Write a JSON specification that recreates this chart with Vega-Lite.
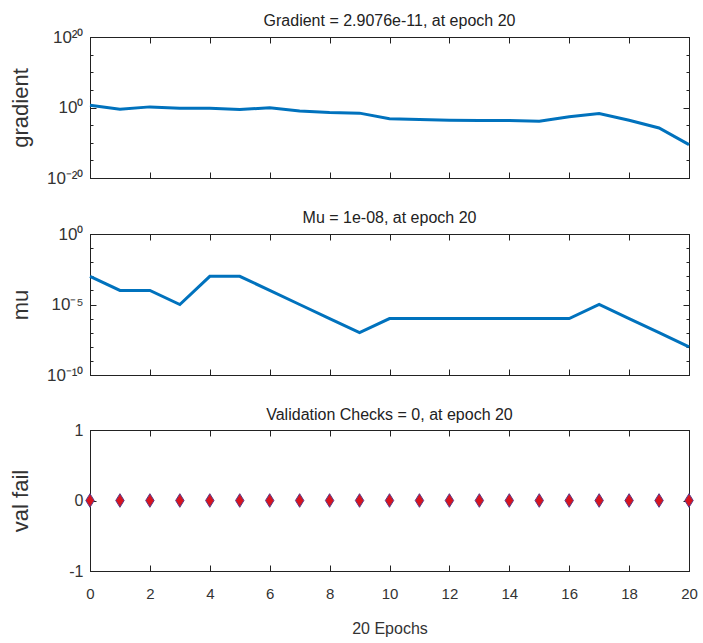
{
  "$schema": "https://vega.github.io/schema/vega-lite/v6.json",
  "background": "white",
  "padding": {"left": 8, "top": 12, "right": 5, "bottom": 5},
  "spacing": 22,
  "datasets": {
    "grad": [
      {"epoch": 0, "gradient": 4.6},
      {"epoch": 1, "gradient": 0.34},
      {"epoch": 2, "gradient": 1.5},
      {"epoch": 3, "gradient": 0.65},
      {"epoch": 4, "gradient": 0.65},
      {"epoch": 5, "gradient": 0.27},
      {"epoch": 6, "gradient": 0.8},
      {"epoch": 7, "gradient": 0.11},
      {"epoch": 8, "gradient": 0.04},
      {"epoch": 9, "gradient": 0.025},
      {"epoch": 10, "gradient": 0.00063},
      {"epoch": 11, "gradient": 0.0004},
      {"epoch": 12, "gradient": 0.00025},
      {"epoch": 13, "gradient": 0.0002},
      {"epoch": 14, "gradient": 0.0002},
      {"epoch": 15, "gradient": 0.00013},
      {"epoch": 16, "gradient": 0.0025},
      {"epoch": 17, "gradient": 0.02},
      {"epoch": 18, "gradient": 0.00025},
      {"epoch": 19, "gradient": 0.0000016},
      {"epoch": 20, "gradient": 2.9076e-11}
    ],
    "mu": [
      {"epoch": 0, "mu": 0.001},
      {"epoch": 1, "mu": 0.0001},
      {"epoch": 2, "mu": 0.0001},
      {"epoch": 3, "mu": 0.00001},
      {"epoch": 4, "mu": 0.001},
      {"epoch": 5, "mu": 0.001},
      {"epoch": 6, "mu": 0.0001},
      {"epoch": 7, "mu": 0.00001},
      {"epoch": 8, "mu": 0.000001},
      {"epoch": 9, "mu": 0.0000001},
      {"epoch": 10, "mu": 0.000001},
      {"epoch": 11, "mu": 0.000001},
      {"epoch": 12, "mu": 0.000001},
      {"epoch": 13, "mu": 0.000001},
      {"epoch": 14, "mu": 0.000001},
      {"epoch": 15, "mu": 0.000001},
      {"epoch": 16, "mu": 0.000001},
      {"epoch": 17, "mu": 0.00001},
      {"epoch": 18, "mu": 0.000001},
      {"epoch": 19, "mu": 0.0000001},
      {"epoch": 20, "mu": 0.00000001}
    ],
    "val": [
      {"epoch": 0, "val": 0}, {"epoch": 1, "val": 0}, {"epoch": 2, "val": 0},
      {"epoch": 3, "val": 0}, {"epoch": 4, "val": 0}, {"epoch": 5, "val": 0},
      {"epoch": 6, "val": 0}, {"epoch": 7, "val": 0}, {"epoch": 8, "val": 0},
      {"epoch": 9, "val": 0}, {"epoch": 10, "val": 0}, {"epoch": 11, "val": 0},
      {"epoch": 12, "val": 0}, {"epoch": 13, "val": 0}, {"epoch": 14, "val": 0},
      {"epoch": 15, "val": 0}, {"epoch": 16, "val": 0}, {"epoch": 17, "val": 0},
      {"epoch": 18, "val": 0}, {"epoch": 19, "val": 0}, {"epoch": 20, "val": 0}
    ]
  },
  "vconcat": [
    {
      "title": {"text": "Gradient = 2.9076e-11, at epoch 20"},
      "width": 599,
      "height": 141,
      "data": {"name": "grad"},
      "layer": [
        {
          "mark": {"type": "line", "color": "#0072BD", "strokeWidth": 3},
          "encoding": {
            "x": {"field": "epoch", "type": "quantitative", "scale": {"domain": [0, 20], "nice": false, "zero": false},
                  "axis": {"orient": "bottom", "values": [0, 2, 4, 6, 8, 10, 12, 14, 16, 18, 20], "labels": false, "title": null, "tickSize": -6}},
            "y": {"field": "gradient", "type": "quantitative", "scale": {"type": "log", "domain": [1e-20, 1e20], "nice": false},
                  "axis": {"orient": "left", "title": "gradient", "minExtent": 50, "maxExtent": 50,
                           "values": [1e-20, 1e-15, 1e-10, 1e-5, 1, 1e5, 1e10, 1e15, 1e20],
                           "labelExpr": "datum.value == 1e20 ? '10²⁰' : datum.value == 1 ? '10⁰' : datum.value == 1e-20 ? '10⁻²⁰' : ''",
                           "tickSize": {"condition": {"test": "datum.value == 1e20 || datum.value == 1 || datum.value == 1e-20", "value": -6}, "value": -3}}}
          }
        },
        {
          "mark": {"type": "line", "opacity": 0},
          "encoding": {
            "x": {"field": "epoch", "type": "quantitative", "axis": {"orient": "top", "values": [0, 2, 4, 6, 8, 10, 12, 14, 16, 18, 20], "labels": false, "title": null, "tickSize": -6}},
            "y": {"field": "gradient", "type": "quantitative",
                  "axis": {"orient": "right", "title": null, "labels": false,
                           "values": [1e-20, 1e-15, 1e-10, 1e-5, 1, 1e5, 1e10, 1e15, 1e20],
                           "tickSize": {"condition": {"test": "datum.value == 1e20 || datum.value == 1 || datum.value == 1e-20", "value": -6}, "value": -3}}}
          }
        }
      ],
      "resolve": {"axis": {"x": "independent", "y": "independent"}}
    },
    {
      "title": {"text": "Mu = 1e-08, at epoch 20"},
      "width": 599,
      "height": 141,
      "data": {"name": "mu"},
      "layer": [
        {
          "mark": {"type": "line", "color": "#0072BD", "strokeWidth": 3},
          "encoding": {
            "x": {"field": "epoch", "type": "quantitative", "scale": {"domain": [0, 20], "nice": false, "zero": false},
                  "axis": {"orient": "bottom", "values": [0, 2, 4, 6, 8, 10, 12, 14, 16, 18, 20], "labels": false, "title": null, "tickSize": -6}},
            "y": {"field": "mu", "type": "quantitative", "scale": {"type": "log", "domain": [1e-10, 1], "nice": false},
                  "axis": {"orient": "left", "title": "mu", "minExtent": 50, "maxExtent": 50,
                           "values": [1e-10, 1e-9, 1e-8, 1e-7, 1e-6, 1e-5, 1e-4, 1e-3, 1e-2, 1e-1, 1],
                           "labelExpr": "datum.value == 1 ? '10⁰' : datum.value == 1e-5 ? '10⁻⁵' : datum.value == 1e-10 ? '10⁻¹⁰' : ''",
                           "tickSize": {"condition": {"test": "datum.value == 1 || datum.value == 1e-5 || datum.value == 1e-10", "value": -6}, "value": -3}}}
          }
        },
        {
          "mark": {"type": "line", "opacity": 0},
          "encoding": {
            "x": {"field": "epoch", "type": "quantitative", "axis": {"orient": "top", "values": [0, 2, 4, 6, 8, 10, 12, 14, 16, 18, 20], "labels": false, "title": null, "tickSize": -6}},
            "y": {"field": "mu", "type": "quantitative",
                  "axis": {"orient": "right", "title": null, "labels": false,
                           "values": [1e-10, 1e-9, 1e-8, 1e-7, 1e-6, 1e-5, 1e-4, 1e-3, 1e-2, 1e-1, 1],
                           "tickSize": {"condition": {"test": "datum.value == 1 || datum.value == 1e-5 || datum.value == 1e-10", "value": -6}, "value": -3}}}
          }
        }
      ],
      "resolve": {"axis": {"x": "independent", "y": "independent"}}
    },
    {
      "title": {"text": "Validation Checks = 0, at epoch 20"},
      "width": 599,
      "height": 141,
      "data": {"name": "val"},
      "layer": [
        {
          "mark": {"type": "point", "shape": "M0,-1L0.62,0L0,1L-0.62,0Z", "size": 185, "filled": true, "fill": "#d7141e", "stroke": "#5a3a8a", "strokeWidth": 1, "opacity": 1},
          "encoding": {
            "x": {"field": "epoch", "type": "quantitative", "scale": {"domain": [0, 20], "nice": false, "zero": false},
                  "axis": {"orient": "bottom", "values": [0, 2, 4, 6, 8, 10, 12, 14, 16, 18, 20], "title": "20 Epochs", "tickSize": -6, "labelFlush": false}},
            "y": {"field": "val", "type": "quantitative", "scale": {"domain": [-1, 1], "nice": false},
                  "axis": {"orient": "left", "title": "val fail", "minExtent": 50, "maxExtent": 50, "values": [-1, 0, 1], "tickSize": -6,
                           "labelFontSize": 16,
                           "labelExpr": "datum.value == 1 ? '1' : datum.value == 0 ? '0' : '-1'"}}
          }
        },
        {
          "mark": {"type": "point", "opacity": 0},
          "encoding": {
            "x": {"field": "epoch", "type": "quantitative", "axis": {"orient": "top", "values": [0, 2, 4, 6, 8, 10, 12, 14, 16, 18, 20], "labels": false, "title": null, "tickSize": -6}},
            "y": {"field": "val", "type": "quantitative", "axis": {"orient": "right", "title": null, "labels": false, "values": [-1, 0, 1], "tickSize": -6}}
          }
        }
      ],
      "resolve": {"axis": {"x": "independent", "y": "independent"}}
    }
  ],
  "config": {
    "view": {"stroke": "#222222", "strokeWidth": 1},
    "title": {"font": "Liberation Sans, Arial", "fontSize": 16, "fontWeight": "normal", "color": "#222222", "offset": -1},
    "axis": {
      "grid": false,
      "domain": true,
      "domainColor": "#222222",
      "tickColor": "#222222",
      "tickWidth": 1,
      "labelFont": "Liberation Sans, Arial",
      "labelFontSize": 17,
      "labelColor": "#333333",
      "labelPadding": 13,
      "titleFont": "Liberation Sans, Arial",
      "titleFontSize": 22,
      "titleFontWeight": "normal",
      "titleColor": "#333333",
      "titlePadding": 8
    },
    "axisBottom": {"labelFontSize": 15, "labelPadding": 21, "titleFontSize": 16, "titlePadding": 19}
  }
}
